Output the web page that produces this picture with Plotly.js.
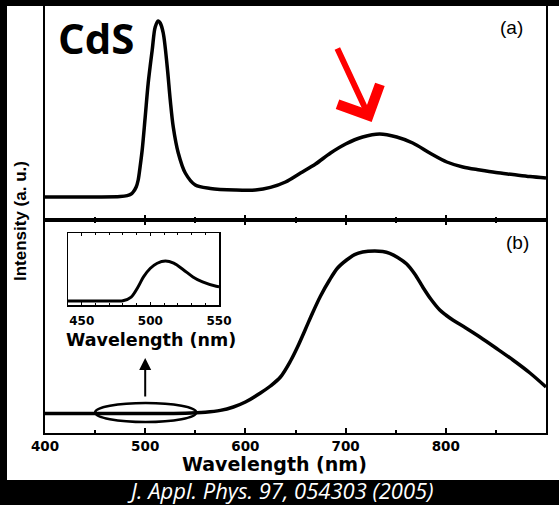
<!DOCTYPE html>
<html>
<head>
<meta charset="utf-8">
<script src="https://cdn.plot.ly/plotly-3.0.1.min.js"></script>
<style>html,body{margin:0;padding:0;background:#000;}#chart{width:559px;height:505px;}</style>
</head>
<body>
<div id="chart"></div>
<script>
// Panel (a): PL spectrum
const waveA = [400,450,475,482,486,488,491,493,495,497,500,503,507,510,513,515,518,522,525,528,533,540,550,565,590,610,625,640,655,670,685,700,717,734,751,767,784,801,817,834,850,867,884,900];
const intA  = [0.115,0.115,0.117,0.122,0.13,0.14,0.165,0.20,0.27,0.35,0.515,0.685,0.85,0.965,0.995,0.985,0.935,0.765,0.60,0.465,0.335,0.235,0.175,0.158,0.15,0.15,0.163,0.19,0.235,0.28,0.335,0.38,0.415,0.43,0.415,0.385,0.335,0.29,0.265,0.25,0.2375,0.2275,0.2175,0.21];
// Panel (b): PL spectrum
const waveB = [400,450,500,540,560,575,588,600,615,625,635,645,652,660,667,675,684,692,701,709,717,729,737,744,752,761,769,777,785,794,800,807,820,834,850,867,884,900];
const intB  = [0.0975,0.0975,0.0975,0.099,0.104,0.113,0.13,0.155,0.20,0.235,0.28,0.36,0.43,0.52,0.60,0.685,0.765,0.825,0.865,0.892,0.905,0.91,0.907,0.898,0.878,0.845,0.795,0.73,0.67,0.615,0.59,0.565,0.525,0.48,0.425,0.365,0.30,0.23];
// Inset: zoom of panel (b) near 500 nm
const waveInset = [440,460,475,480,486,491,495,500,505,511,517,524,531,538,548,550];
const intInset  = [0.056,0.056,0.056,0.058,0.11,0.25,0.39,0.51,0.58,0.61,0.58,0.49,0.39,0.32,0.26,0.255];
const mainTicks = [400,500,600,700,800,900];
const insetTicks = [450,500,550];

const lineStyle = {color:'#000', width:3.5, shape:'spline', smoothing:0.9};
const traces = [
  {x:waveA, y:intA, xaxis:'x', yaxis:'y', mode:'lines', line:lineStyle, hoverinfo:'skip'},
  {x:waveB, y:intB, xaxis:'x2', yaxis:'y2', mode:'lines', line:lineStyle, hoverinfo:'skip'},
  {x:waveInset, y:intInset, xaxis:'x3', yaxis:'y3', mode:'lines', line:{color:'#000', width:3, shape:'spline', smoothing:0.9}, hoverinfo:'skip'}
];

const W=559, H=505, L=45, R=13, T=6, B=72;
const pw = W-L-R, ph = H-T-B;
const px = v => (v-L)/pw;
const py = v => (H-B-v)/ph;
const split = py(220);

const boldFont = (s) => ({family:'DejaVu Sans, Arial', size:s, color:'#000', weight:'bold'});

const layout = {
  width:W, height:H,
  margin:{l:L, r:R, t:T, b:B, pad:0},
  paper_bgcolor:'#000',
  plot_bgcolor:'#fff',
  showlegend:false,
  xaxis:{domain:[0,1], anchor:'y', range:[400,900], showline:true, linecolor:'#000', linewidth:2,
         ticks:'inside', tickvals:mainTicks, ticklen:5, tickwidth:2, tickcolor:'#000',
         minor:{ticks:'inside', dtick:50, tick0:400, ticklen:3, tickwidth:2, tickcolor:'#000'},
         showticklabels:false, showgrid:false, zeroline:false},
  yaxis:{domain:[split,1], anchor:'x', range:[0,1.07], showline:true, mirror:true, linecolor:'#000', linewidth:2,
         ticks:'', showticklabels:false, showgrid:false, zeroline:false},
  xaxis2:{domain:[0,1], anchor:'y2', range:[400,900], showline:true, mirror:'ticks', linecolor:'#000', linewidth:2,
         ticks:'inside', tickvals:mainTicks, ticklen:5, tickwidth:2, tickcolor:'#000',
         minor:{ticks:'inside', dtick:50, tick0:400, ticklen:3, tickwidth:2, tickcolor:'#000'},
         tickfont:boldFont(13.5), showgrid:false, zeroline:false},
  yaxis2:{domain:[0,split], anchor:'x2', range:[0,1.065], showline:true, mirror:true, linecolor:'#000', linewidth:2,
         ticks:'', showticklabels:false, showgrid:false, zeroline:false},
  xaxis3:{domain:[px(68), px(219)], anchor:'y3', range:[440,550], showline:true, mirror:'ticks', linecolor:'#000', linewidth:1.5,
         ticks:'inside', tickvals:insetTicks, ticklen:3, tickwidth:1, tickcolor:'#000',
         minor:{ticks:'inside', dtick:10, tick0:440, ticklen:2, tickwidth:1, tickcolor:'#000'},
         tickfont:boldFont(12), ticklabelstandoff:4, showgrid:false, zeroline:false},
  yaxis3:{domain:[py(305), py(233)], anchor:'x3', range:[0,1], showline:true, mirror:true, linecolor:'#000', linewidth:1.5,
         ticks:'', showticklabels:false, showgrid:false, zeroline:false},
  shapes:[
    {type:'rect', xref:'paper', yref:'paper', x0:px(7), x1:px(560), y0:py(480), y1:py(6), fillcolor:'#fff', line:{width:0}, layer:'below'},
    {type:'circle', xref:'x2', yref:'y2', x0:450, x1:551, y0:0.055, y1:0.15, line:{color:'#000', width:2.5}}
  ],
  annotations:[
    {text:'Wavelength (nm)', xref:'paper', yref:'paper', x:px(274), y:py(464), xanchor:'center', yanchor:'middle', showarrow:false,
     borderpad:0, font:boldFont(19)},
    {text:'Wavelength (nm)', xref:'paper', yref:'paper', x:px(151), y:py(340), xanchor:'center', yanchor:'middle', showarrow:false,
     font:boldFont(17.5)},
    {text:'CdS', xref:'paper', yref:'paper', x:px(96), y:py(38), xanchor:'center', yanchor:'middle', showarrow:false,
     font:{family:'Open Sans, Lato, Arial', size:42, color:'#000', weight:'bold'}},
    {text:'(a)', xref:'paper', yref:'paper', x:px(511), y:py(28), xanchor:'center', yanchor:'middle', showarrow:false,
     font:{family:'Liberation Sans, Arial', size:19, color:'#000'}},
    {text:'(b)', xref:'paper', yref:'paper', x:px(517), y:py(243), xanchor:'center', yanchor:'middle', showarrow:false,
     font:{family:'Liberation Sans, Arial', size:19, color:'#000'}},
    {text:'Intensity (a. u.)', xref:'paper', yref:'paper', x:px(20), y:py(221), xanchor:'center', yanchor:'middle', textangle:-90, showarrow:false,
     font:{family:'Liberation Sans Narrow, Liberation Sans, Arial', size:17, color:'#000', weight:'bold'}},
    {text:'J. Appl. Phys. 97, 054303 (2005)', xref:'paper', yref:'paper', x:px(280), y:py(490), xanchor:'center', yanchor:'middle', showarrow:false,
     borderpad:0, font:{family:'Open Sans, Arial', size:22, color:'#fff', style:'italic'}},
    {text:'', xref:'x', yref:'y', x:726, y:0.49, ax:-35, ay:-75, showarrow:true,
     arrowhead:4, arrowsize:1.5, arrowwidth:6, arrowcolor:'#ff0000'},
    {text:'', xref:'x2', yref:'y2', x:500, y:0.375, ax:0, ay:40, showarrow:true,
     arrowhead:2, arrowsize:1.2, arrowwidth:2, arrowcolor:'#000'}
  ]
};

Plotly.newPlot('chart', traces, layout, {staticPlot:true, displayModeBar:false});
</script>
</body>
</html>
